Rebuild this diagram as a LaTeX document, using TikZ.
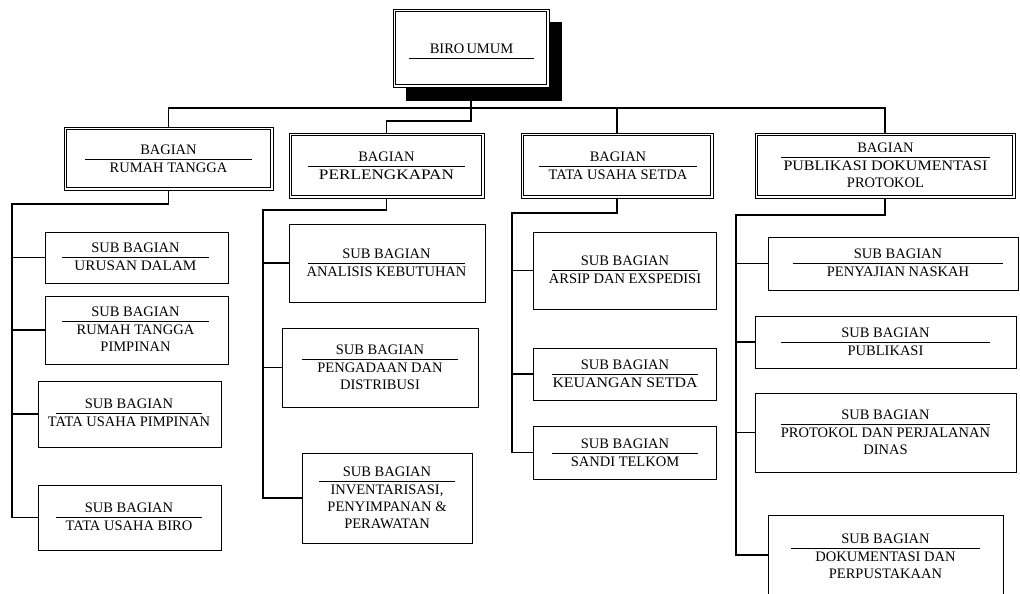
\documentclass[tikz,border=0pt]{standalone}
\usepackage{fontspec}
\setmainfont{Liberation Serif}
\usetikzlibrary{shadows}
\newcommand\fsz{\fontsize{14.5}{17}\selectfont}
\newcommand\sw[2]{\resizebox{#1}{\height}{#2}}
\tikzset{
  sbox/.style={draw, line width=0.8pt, inner sep=0pt},
  dbox/.style={draw, line width=0.8pt, inner sep=0pt, fill=white},
  dline/.style={line width=0.8pt},
  ttl/.style={anchor=base, inner sep=0pt, font=\fsz},
  bdy/.style={anchor=north, inner sep=0pt, align=center, font=\fsz},
  uline/.style={line width=0.8pt},
  conn/.style={line width=1.1pt},
}
\newcommand\lbl[6]{%
  \node[ttl] (#1-t) at ({(#2+#3)/2},{#4-4.5}) {#5};
  \draw[uline] (#2,#4) -- (#3,#4);
  \node[bdy] (#1-b) at ({(#2+#3)/2},{#4+3.5}) {#6};
}
\newcommand\dinner[1]{%
  \draw[dline] ([shift={(3pt,-3pt)}]#1.north west) rectangle ([shift={(-3pt,3pt)}]#1.south east);
}
\begin{document}
\begin{tikzpicture}[x=1pt,y=-1pt]
\useasboundingbox (0,0) rectangle (1020,594);
\clip (0,0) rectangle (1020,594);

% top box
\node[dbox, minimum width=156pt, minimum height=78pt,
      drop shadow={shadow xshift=13pt, shadow yshift=-13.5pt, fill=black, opacity=1}] (bu) at (471,48) {};
\dinner{bu}
\node[ttl] (bu-t) at (471.5,53.5) {BIRO\hspace{-1.5pt} UMUM};
\draw[uline] (409,58) -- (534,58);

% bagian boxes
\node[dbox, minimum width=209pt, minimum height=63pt] (rt) at (168.5,158.5) {};
\node[dbox, minimum width=195pt, minimum height=65pt] (per) at (386.5,165.5) {};
\node[dbox, minimum width=192pt, minimum height=65pt] (tus) at (617,165.5) {};
\node[dbox, minimum width=260pt, minimum height=65pt] (pub) at (885,165.5) {};
\dinner{rt}
\dinner{per}
\dinner{tus}
\dinner{pub}
\lbl{rt}{85}{252}{159}{BAGIAN}{RUMAH TANGGA}
\lbl{per}{308}{465}{166}{BAGIAN}{\sw{135pt}{PERLENGKAPAN}}
\lbl{tus}{539}{697}{166}{BAGIAN}{TATA USAHA SETDA}
\lbl{pub}{781}{990}{157}{BAGIAN}{\sw{204pt}{PUBLIKASI DOKUMENTASI}\\PROTOKOL}

% column 1
\node[sbox, minimum width=183pt, minimum height=51pt] (u1) at (136.5,257.5) {};
\node[sbox, minimum width=183pt, minimum height=68pt] (u2) at (136.5,330) {};
\node[sbox, minimum width=183pt, minimum height=66pt] (u3) at (129.5,414) {};
\node[sbox, minimum width=183pt, minimum height=65pt] (u4) at (129.5,517.5) {};
\lbl{u1}{62}{209}{257}{SUB BAGIAN}{\sw{122pt}{URUSAN DALAM}}
\lbl{u2}{62}{209}{321}{SUB BAGIAN}{RUMAH TANGGA\\PIMPINAN}
\lbl{u3}{56}{202}{413}{SUB BAGIAN}{TATA USAHA PIMPINAN}
\lbl{u4}{56}{202}{517}{SUB BAGIAN}{TATA USAHA BIRO}

% column 2
\node[sbox, minimum width=196pt, minimum height=78pt] (p1) at (387,263) {};
\node[sbox, minimum width=196pt, minimum height=79pt] (p2) at (380,367.5) {};
\node[sbox, minimum width=170pt, minimum height=90pt] (p3) at (387,498) {};
\lbl{p1}{308}{465}{263}{SUB BAGIAN}{ANALISIS KEBUTUHAN}
\lbl{p2}{302}{458}{359}{SUB BAGIAN}{PENGADAAN DAN\\DISTRIBUSI}
\lbl{p3}{319}{455}{481}{SUB BAGIAN}{INVENTARISASI,\\PENYIMPANAN \&\\PERAWATAN}

% column 3
\node[sbox, minimum width=183pt, minimum height=77pt] (t1) at (624.5,270.5) {};
\node[sbox, minimum width=183pt, minimum height=52pt] (t2) at (624.5,374) {};
\node[sbox, minimum width=183pt, minimum height=53pt] (t3) at (624.5,452.5) {};
\lbl{t1}{552}{698}{270}{SUB BAGIAN}{ARSIP DAN EXSPEDISI}
\lbl{t2}{552}{698}{374}{SUB BAGIAN}{\sw{145pt}{KEUANGAN SETDA}}
\lbl{t3}{552}{698}{453}{SUB BAGIAN}{SANDI TELKOM}

% column 4
\node[sbox, minimum width=250.5pt, minimum height=53pt] (b1) at (893.25,263.5) {};
\node[sbox, minimum width=261pt, minimum height=52pt] (b2) at (885.5,342) {};
\node[sbox, minimum width=261pt, minimum height=79pt] (b3) at (885.5,432.5) {};
\node[sbox, minimum width=235pt, minimum height=80pt] (b4) at (885.5,555) {};
\lbl{b1}{793}{1003}{263}{SUB BAGIAN}{PENYAJIAN NASKAH}
\lbl{b2}{781}{990}{342}{SUB BAGIAN}{PUBLIKASI}
\lbl{b3}{781}{990}{424}{SUB BAGIAN}{PROTOKOL DAN PERJALANAN\\DINAS}
\lbl{b4}{791}{980}{548}{SUB BAGIAN}{DOKUMENTASI DAN\\PERPUSTAKAAN}

% top connectors
\coordinate (bus) at (471,108);
\coordinate (j0) at (471,121);
\draw[conn] (bu.south) -- (bus);
\draw[conn] (rt.north) |- (pub.north |- bus) -- (pub.north);
\draw[conn] (tus.north) -- (tus.north |- bus);
\draw[conn] (bus) -- (j0) -| (per.north);

% column connectors
\coordinate (k1) at (12,204);
\coordinate (k2) at (263,210);
\coordinate (k3) at (512,213);
\coordinate (k4) at (736,215);
\draw[conn] (rt.south) |- (k1) -- (k1 |- u4.west) -- (u4.west);
\draw[conn] (k1 |- u1.west) -- (u1.west);
\draw[conn] (k1 |- u2.west) -- (u2.west);
\draw[conn] (k1 |- u3.west) -- (u3.west);

\draw[conn] (per.south) |- (k2) -- (k2 |- p3.west) -- (p3.west);
\draw[conn] (k2 |- p1.west) -- (p1.west);
\draw[conn] (k2 |- p2.west) -- (p2.west);

\draw[conn] (tus.south) |- (k3) -- (k3 |- t3.west) -- (t3.west);
\draw[conn] (k3 |- t1.west) -- (t1.west);
\draw[conn] (k3 |- t2.west) -- (t2.west);

\draw[conn] (pub.south) |- (k4) -- (k4 |- b4.west) -- (b4.west);
\draw[conn] (k4 |- b1.west) -- (b1.west);
\draw[conn] (k4 |- b2.west) -- (b2.west);
\draw[conn] (k4 |- b3.west) -- (b3.west);
\end{tikzpicture}
\end{document}
